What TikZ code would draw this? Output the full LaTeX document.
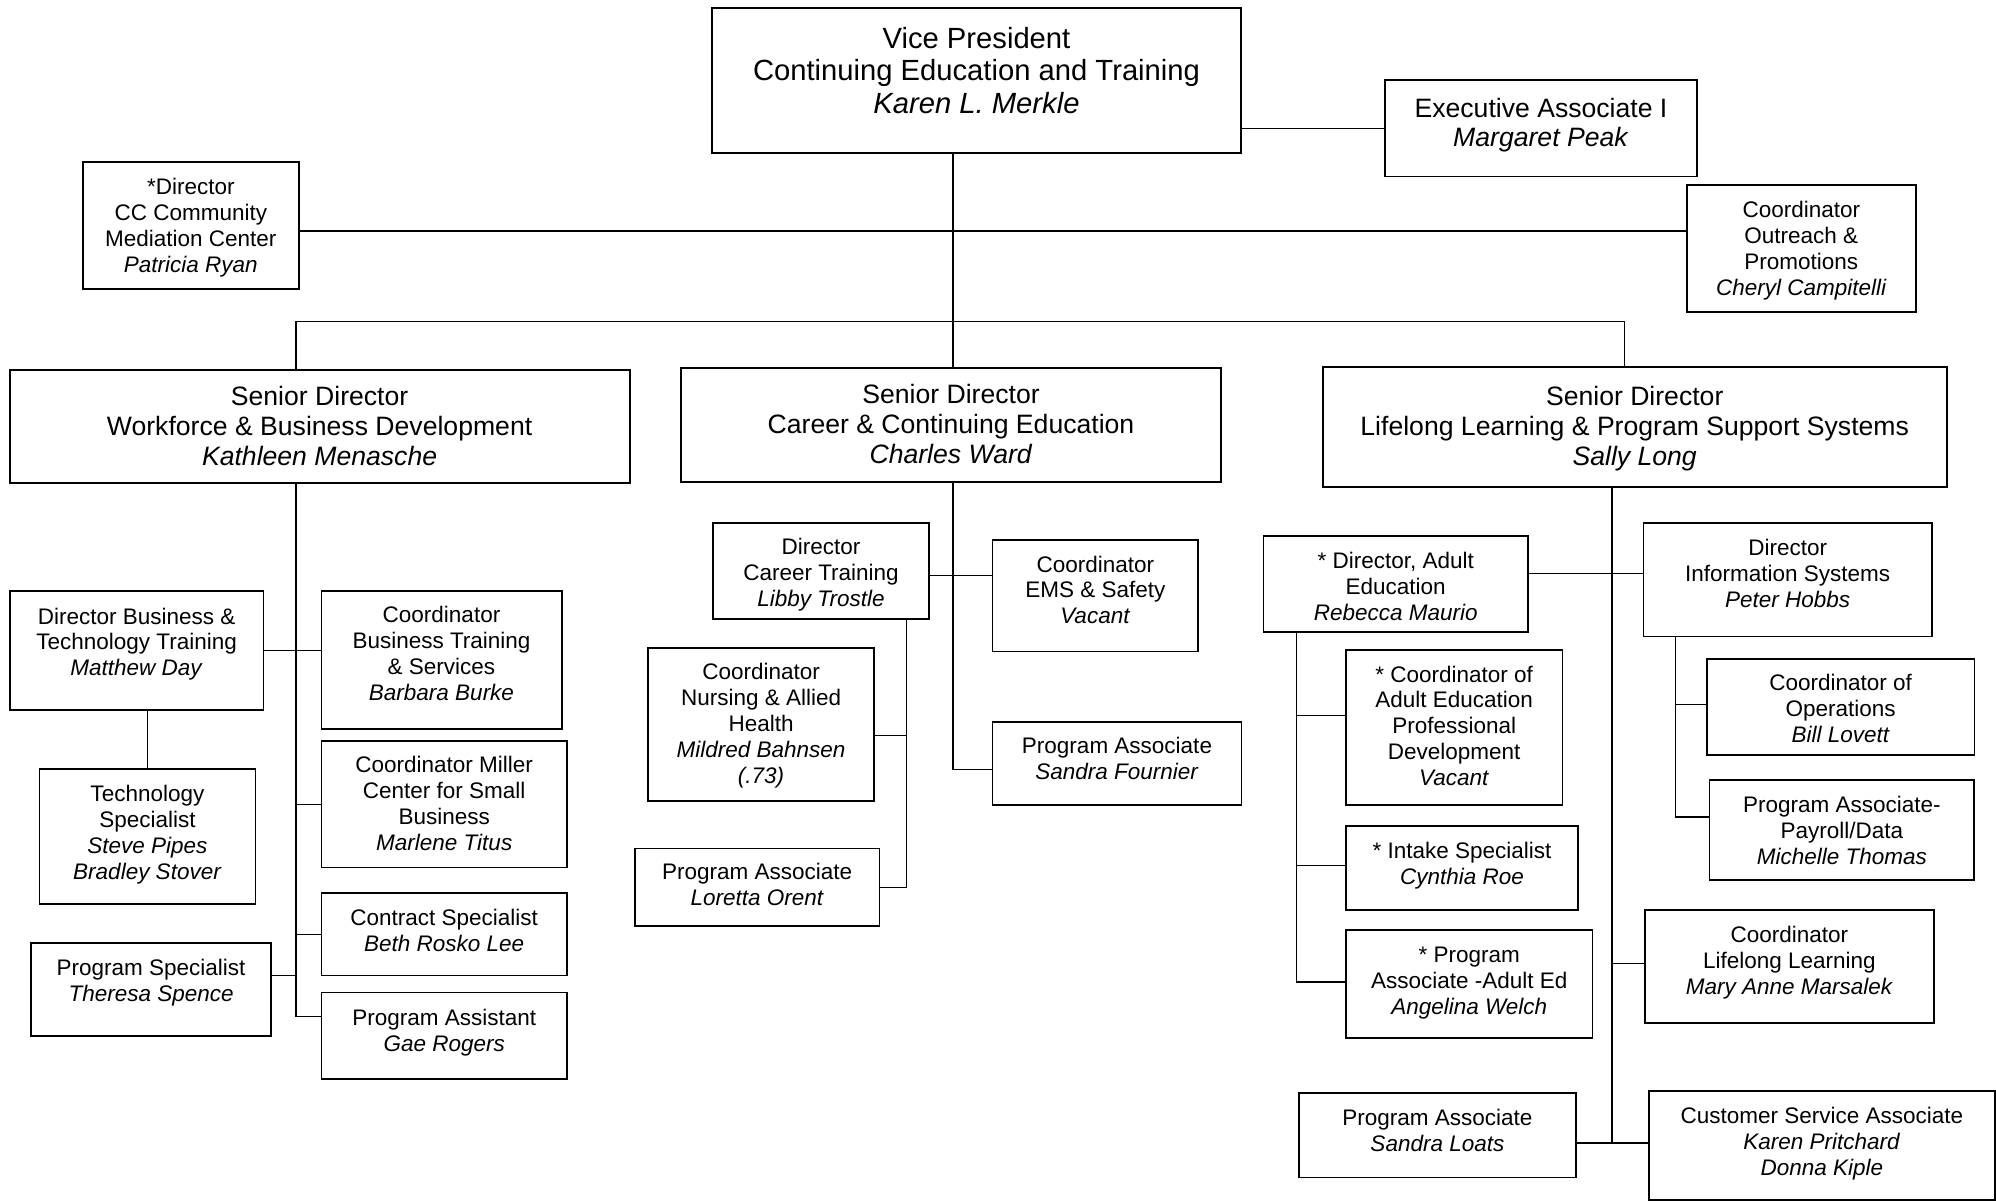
\documentclass[tikz,border=0pt]{standalone}
\usepackage{fontspec}
\setmainfont{Liberation Sans}
\newcommand\boxlines[2][0pt]{\raisebox{#1}[\height][\depth]{\begin{tabular}{@{}c@{}}#2\end{tabular}}}

\begin{document}
\begin{tikzpicture}[x=0.5pt, y=-0.5pt, line width=0.7pt,
	box/.style={draw, line width=0.9pt, inner sep=0pt, font=\fontsize{11.25}{12.95}\selectfont},
	srfont/.style={font=\fontsize{13.3}{15}\selectfont},
	eafont/.style={font=\fontsize{13.3}{14.2}\selectfont},
	vpfont/.style={font=\fontsize{14.6}{16.2}\selectfont}]
	\useasboundingbox (0,0) rectangle (1996,1202);

	\node[box, vpfont, minimum width=264.5pt, minimum height=72.2pt] (vp) at (976.5,80.5) {\boxlines[3pt]{Vice President\\ Continuing Education and Training\\ \textit{Karen L. Merkle}}};
	\node[box, eafont, minimum width=156pt, minimum height=48.3pt] (exec) at (1541,128.3) {\boxlines[0.9pt]{Executive Associate I\\ \textit{Margaret Peak}}};
	\node[box, minimum width=107.8pt, minimum height=63.5pt] (med) at (190.8,225.5) {\boxlines[-1.4pt]{*Director\\ CC Community\\ Mediation Center\\ \textit{Patricia Ryan}}};
	\node[box, minimum width=114.3pt, minimum height=63.5pt] (outreach) at (1801.3,248.5) {\boxlines[-1.4pt]{Coordinator\\ Outreach \&\\ Promotions\\ \textit{Cheryl Campitelli}}};
	\node[box, srfont, minimum width=310pt, minimum height=56.5pt] (wbd) at (319.6,426.5) {\boxlines[-1.5pt]{Senior Director\\ Workforce \& Business Development\\ \textit{Kathleen Menasche}}};
	\node[box, srfont, minimum width=270pt, minimum height=56.9pt] (cce) at (951,424.9) {\boxlines[-1.5pt]{Senior Director\\ Career \& Continuing Education\\ \textit{Charles Ward}}};
	\node[box, srfont, minimum width=312pt, minimum height=60pt] (llp) at (1634.7,426.7) {\boxlines[-1.5pt]{Senior Director\\ Lifelong Learning \& Program Support Systems\\ \textit{Sally Long}}};

	\node[box, minimum width=126.8pt, minimum height=59.4pt] (dbt) at (136.6,650.4) {\boxlines[2.8pt]{Director Business \&\\ Technology Training\\ \textit{Matthew Day}}};
	\node[box, minimum width=120.1pt, minimum height=69pt] (cbt) at (441.5,660) {\boxlines[2pt]{Coordinator\\ Business Training\\ \& Services\\ \textit{Barbara Burke}}};
	\node[box, minimum width=108pt, minimum height=67.4pt] (tech) at (147.4,836.2) {\boxlines[0.4pt]{Technology\\ Specialist\\ \textit{Steve Pipes}\\ \textit{Bradley Stover}}};
	\node[box, minimum width=122.8pt, minimum height=63.2pt] (miller) at (444.2,804.2) {\boxlines[-1pt]{Coordinator Miller\\ Center for Small\\ Business\\ \textit{Marlene Titus}}};
	\node[box, minimum width=122.8pt, minimum height=41.3pt] (contract) at (444.2,934.2) {\boxlines[0.3pt]{Contract Specialist\\ \textit{Beth Rosko Lee}}};
	\node[box, minimum width=119.9pt, minimum height=46.4pt] (pspec) at (151.1,989.3) {\boxlines[2.8pt]{Program Specialist\\ \textit{Theresa Spence}}};
	\node[box, minimum width=122.8pt, minimum height=43.3pt] (passist) at (444.2,1035.7) {\boxlines[1.2pt]{Program Assistant\\ \textit{Gae Rogers}}};

	\node[box, minimum width=108pt, minimum height=48pt] (dct) at (821,571.3) {\boxlines[-2.2pt]{Director\\ Career Training\\ \textit{Libby Trostle}}};
	\node[box, minimum width=102.9pt, minimum height=55.8pt] (ems) at (1095.3,595.8) {\boxlines[1.5pt]{Coordinator\\ EMS \& Safety\\ \textit{Vacant}}};
	\node[box, minimum width=112.9pt, minimum height=76.3pt] (nurse) at (761.1,724.6) {\boxlines[-1pt]{Coordinator\\ Nursing \& Allied\\ Health\\ \textit{Mildred Bahnsen}\\ \textit{(.73)}}};
	\node[box, minimum width=124.5pt, minimum height=41.7pt] (fournier) at (1117,763.3) {\boxlines[0.8pt]{Program Associate\\ \textit{Sandra Fournier}}};
	\node[box, minimum width=122.3pt, minimum height=38.8pt] (loretta) at (757.2,887.2) {\boxlines[-0.2pt]{Program Associate\\ \textit{Loretta Orent}}};

	\node[box, minimum width=132.3pt, minimum height=47.85pt] (dae) at (1395.7,584) {\boxlines[-2.6pt]{* Director, Adult\\ Education\\ \textit{Rebecca Maurio}}};
	\node[box, minimum width=144.3pt, minimum height=56.6pt] (dis) at (1787.7,579.9) {\boxlines[1.8pt]{Director\\ Information Systems\\ \textit{Peter Hobbs}}};
	\node[box, minimum width=108.2pt, minimum height=77.55pt] (aepd) at (1454.2,727.5) {\boxlines[-0.6pt]{* Coordinator of\\ Adult Education\\ Professional\\ Development\\ \textit{Vacant}}};
	\node[box, minimum width=116pt, minimum height=41.9pt] (intake) at (1462,868.1) {\boxlines[1.1pt]{* Intake Specialist\\ \textit{Cynthia Roe}}};
	\node[box, minimum width=123.2pt, minimum height=53.85pt] (paae) at (1469.2,984.2) {\boxlines[0.6pt]{* Program\\ Associate -Adult Ed\\ \textit{Angelina Welch}}};
	\node[box, minimum width=133.7pt, minimum height=48.1pt] (ops) at (1840.7,707.2) {\boxlines[-2.2pt]{Coordinator of\\ Operations\\ \textit{Bill Lovett}}};
	\node[box, minimum width=132.4pt, minimum height=49.7pt] (payroll) at (1841.9,829.9) {\boxlines[-1.7pt]{Program Associate-\\ Payroll/Data\\ \textit{Michelle Thomas}}};
	\node[box, minimum width=144.4pt, minimum height=56.65pt] (llearn) at (1789.4,966.7) {\boxlines[1.8pt]{Coordinator\\ Lifelong Learning\\ \textit{Mary Anne Marsalek}}};
	\node[box, minimum width=138.8pt, minimum height=42.1pt] (loats) at (1437.4,1135.4) {\boxlines[1.2pt]{Program Associate\\ \textit{Sandra Loats}}};
	\node[box, minimum width=172.9pt, minimum height=54.5pt] (csa) at (1821.9,1145.5) {\boxlines[0.7pt]{Customer Service Associate\\ \textit{Karen Pritchard}\\ \textit{Donna Kiple}}};

	\coordinate (vpline) at (953,0);
	\coordinate (busL) at (296,321.7);
	\coordinate (busR) at (1624.5,321.7);
	\coordinate (dctline) at (906.3,0);
	\coordinate (llpline) at (1611.9,0);
	\coordinate (daeline) at (1296.7,0);
	\coordinate (disline) at (1675.7,0);

	\draw (vp.south -| vpline) -- (cce.north -| vpline);
	\draw (vp.east |- exec.west) -- (exec.west);
	\draw ([yshift=-2.75pt]med.east) -- ([yshift=-2.75pt]med.east -| outreach.west);
	\draw (wbd.north -| busL) -- (busL) -- (busR) -- (llp.north -| busR);

	\draw (wbd.south -| busL) |- ([yshift=9.6pt]passist.west);
	\draw (dbt.east) -- (dbt.east -| cbt.west);
	\draw (tech.north) -- (tech.north |- dbt.south);
	\draw (miller.west) -- (miller.west -| busL);
	\draw (contract.west) -- (contract.west -| busL);
	\draw ([yshift=7pt]pspec.east) -- ([yshift=7pt]pspec.east -| busL);

	\draw (cce.south -| vpline) |- ([yshift=-3pt]fournier.west);
	\draw ([yshift=-2.2pt]dct.east) -- ([yshift=-2.2pt]dct.east -| ems.west);
	\draw (dct.south -| dctline) |- (loretta.east);
	\draw ([yshift=-5.3pt]nurse.east) -- ([yshift=-5.3pt]nurse.east -| dctline);

	\draw (llp.south -| llpline) |- ([yshift=-3.8pt]loats.east);
	\draw ([yshift=-3.8pt]loats.east -| llpline) -- ([yshift=-3.8pt]loats.east -| csa.west);
	\draw ([yshift=5.25pt]dae.east) -- ([yshift=5.25pt]dae.east -| dis.west);
	\draw ([yshift=1.65pt]llearn.west) -- ([yshift=1.65pt]llearn.west -| llpline);
	\draw (dae.south -| daeline) |- ([yshift=1.2pt]paae.west);
	\draw ([yshift=5.9pt]aepd.west) -- ([yshift=5.9pt]aepd.west -| daeline);
	\draw ([yshift=1.35pt]intake.west) -- ([yshift=1.35pt]intake.west -| daeline);
	\draw (dis.south -| disline) |- ([yshift=6.45pt]payroll.west);
	\draw ([yshift=1.25pt]ops.west) -- ([yshift=1.25pt]ops.west -| disline);
\end{tikzpicture}
\end{document}
